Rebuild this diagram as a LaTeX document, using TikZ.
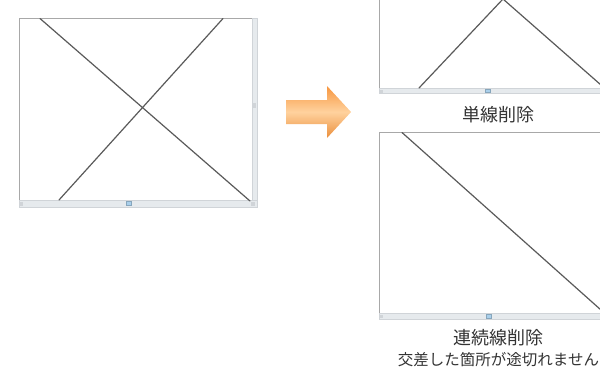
\documentclass[tikz,border=0pt]{standalone}
\usepackage{fontspec}
\newfontfamily\cjk{Noto Sans CJK JP}
\definecolor{framegray}{HTML}{A8A8A8}
\definecolor{sbfill}{HTML}{E6EAED}
\definecolor{sbedge}{HTML}{D0D4D8}
\definecolor{thumbblue}{HTML}{A9CFEB}
\definecolor{linegray}{HTML}{5A5A5A}
\definecolor{txtgray}{HTML}{333333}
\definecolor{orA}{HTML}{F7963F}
\definecolor{orB}{HTML}{FFD29E}
\begin{document}
\begin{tikzpicture}[x=1pt,y=-1pt,
  panel/.style={draw=framegray,line width=0.8pt,fill=white},
  sbar/.style={fill=sbfill,draw=sbedge,line width=0.4pt},
  thumb/.style={fill=thumbblue,draw=thumbblue!80!black,line width=0.3pt},
  endbox/.style={fill=sbedge,draw=none},
  xline/.style={draw=linegray,line width=1.2pt,line cap=round},
  lbl/.style={text=txtgray,font=\cjk\fontsize{18}{20}\selectfont,inner sep=0pt},
  sublbl/.style={text=txtgray,font=\cjk\fontsize{15.5}{17}\selectfont,inner sep=0pt}]
\useasboundingbox (0,0) rectangle (600,373);
% left panel
\path[panel] (19,18) rectangle (257,207);
\path[sbar] (252,18) rectangle (257,200);
\path[sbar] (19,200) rectangle (257,207);
\path[thumb] (126,201.5) rectangle (131,205.5);
\path[endbox] (253,103) rectangle (256,108);
\path[endbox] (20,201.5) rectangle (23,205.5);
\path[endbox] (251,201.5) rectangle (255,205.5);
\coordinate (a1) at (40,18.5);
\coordinate (a2) at (250,201);
\coordinate (b1) at (223,18.5);
\coordinate (b2) at (59,200);
\draw[xline] (a1) -- (a2);
\draw[xline] (b1) -- (b2);
% arrow
\shade[top color=orA,bottom color=orA!95!black,middle color=orB]
  (286,100) -- (327,100) -- (327,86) -- (351,112) -- (327,138) -- (327,124) -- (286,124) -- cycle;
% top right panel
\path[panel] (379,-3) rectangle (603,93);
\path[sbar] (379,88) rectangle (601,93);
\path[thumb] (485,89) rectangle (490,92.5);
\path[endbox] (380,89.5) rectangle (383,92.5);
\coordinate (c1) at (419,88);
\coordinate (c2) at (503,-1);
\coordinate (c3) at (601,85);
\draw[xline,line join=round] (c1) -- (c2) -- (c3);
\node[lbl] (l1) at (498,115) {単線削除};
% bottom right panel
\path[panel] (379,132) rectangle (603,319);
\path[sbar] (379,313) rectangle (601,319);
\path[thumb] (486,314) rectangle (491,318);
\path[endbox] (380,314.5) rectangle (383,317.5);
\coordinate (d1) at (402,132.5);
\coordinate (d2) at (601,310);
\draw[xline] (d1) -- (d2);
\node[lbl] (l2) at (498,338) {連続線削除};
\node[sublbl] (l3) at (498.5,359.5) {交差した箇所が途切れません};
\end{tikzpicture}
\end{document}
